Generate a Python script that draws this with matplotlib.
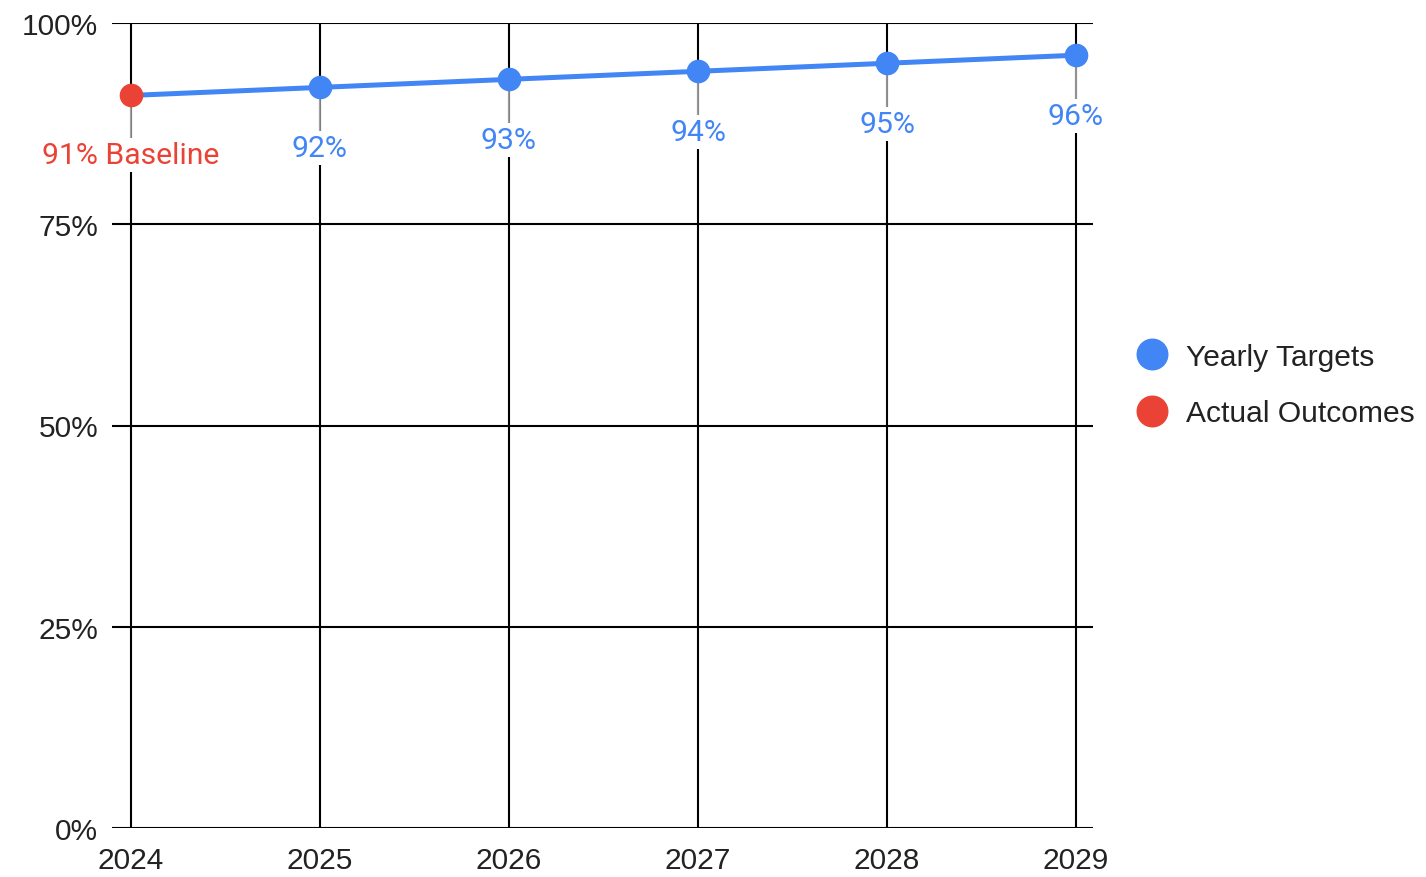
import matplotlib.pyplot as plt
from matplotlib.lines import Line2D

years = [2024, 2025, 2026, 2027, 2028, 2029]
targets = [91, 92, 93, 94, 95, 96]
target_labels = ["", "92%", "93%", "94%", "95%", "96%"]
actual_years = [2024]
actual = [91]
actual_labels = ["91% Baseline"]
yticks = [0, 25, 50, 75, 100]
ytick_labels = ["0%", "25%", "50%", "75%", "100%"]

blue = "#4285F4"
red = "#EA4335"

plt.rcParams["font.family"] = ["Liberation Sans", "DejaVu Sans"]

fig = plt.figure(figsize=(14.26, 8.78), dpi=100)
ax = fig.add_axes([112 / 1426, 1 - 829 / 878, (1093 - 112) / 1426, (829 - 24) / 878])

ax.set_xlim(2023.9, 2029.09)
ax.set_ylim(0, 100)
for s in ax.spines.values():
    s.set_visible(False)
ax.set_xticks(years)
ax.set_xticklabels([str(y) for y in years])
ax.set_yticks(yticks)
ax.set_yticklabels(ytick_labels)
ax.tick_params(length=0, labelsize=21.5, colors="#222222")
ax.tick_params(axis="y", pad=10)
ax.tick_params(axis="x", pad=13)
ax.grid(True, color="black", linewidth=1.5)
ax.set_axisbelow(True)

ax.plot(years, targets, color=blue, linewidth=3.6, marker="o", markersize=16,
        markevery=list(range(1, len(years))), zorder=3, solid_capstyle="round")
ax.plot(actual_years, actual, color=red, linestyle="none", marker="o",
        markersize=16, zorder=4)

# data labels sit below the points, joined by a thin leader line
for x, y, lab in zip(years, targets, target_labels):
    if not lab:
        continue
    ax.annotate(lab, (x, y), xytext=(0, -61), textcoords="offset pixels",
                ha="center", va="center", fontsize=21.7, color=blue, family="Roboto",
                bbox=dict(boxstyle="square,pad=0.1", fc="white", ec="none"),
                arrowprops=dict(arrowstyle="-", color="#d0d0d0", lw=1,
                                shrinkA=0, shrinkB=0), zorder=2.5)

for x, y, lab in zip(actual_years, actual, actual_labels):
    ax.annotate(lab, (x, y), xytext=(0, -60), textcoords="offset pixels",
                ha="center", va="center", fontsize=21.7, color=red, family="Roboto",
                bbox=dict(boxstyle="square,pad=0.1", fc="white", ec="none"),
                arrowprops=dict(arrowstyle="-", color="#d0d0d0", lw=1,
                                shrinkA=0, shrinkB=0), zorder=2.5)

handles = [
    Line2D([], [], color=blue, marker="o", linestyle="none", markersize=22),
    Line2D([], [], color=red, marker="o", linestyle="none", markersize=22),
]
fig.legend(handles, ["Yearly Targets", "Actual Outcomes"], loc="center left",
           bbox_to_anchor=(1122 / 1426, 1 - 386 / 878), frameon=False,
           fontsize=21.6, labelcolor="#222222", borderpad=0, borderaxespad=0,
           handletextpad=0.15, labelspacing=0.95)

fig.savefig("out.png", dpi=100)
